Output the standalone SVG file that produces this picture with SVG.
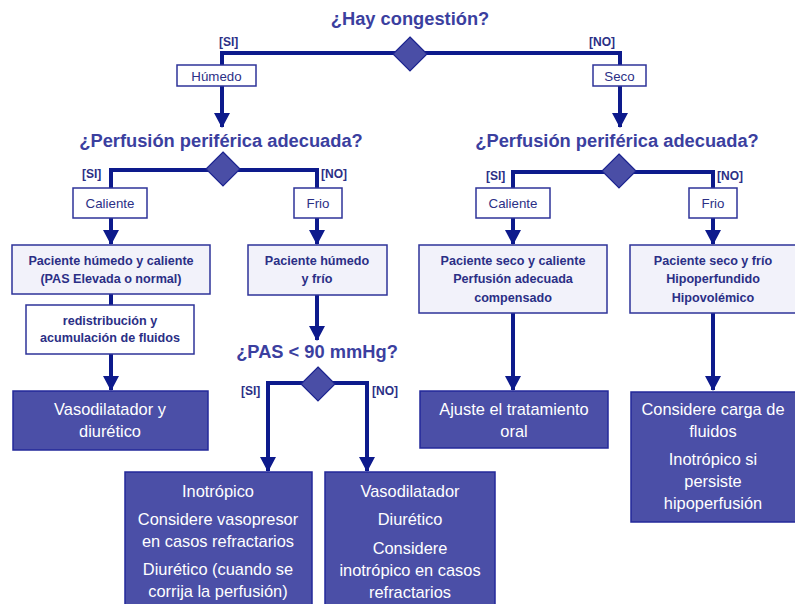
<svg xmlns="http://www.w3.org/2000/svg" width="795" height="604" viewBox="0 0 795 604">
<defs>
<marker id="arr" markerUnits="userSpaceOnUse" markerWidth="16" markerHeight="16" refX="14" refY="8" orient="auto">
<path d="M0,0 L15,8 L0,16 Z" fill="#0d1a8c"/>
</marker>
<style>
.q{font-family:"Liberation Sans",Arial,sans-serif;font-weight:bold;font-size:18.3px;fill:#3b3f9f;text-anchor:middle}
.lbl{font-family:"Liberation Sans",Arial,sans-serif;font-weight:bold;font-size:12px;fill:#2b2f86}
.bx{fill:#ffffff;stroke:#2e3399;stroke-width:1.5}
.lbx{fill:#f2f2fa;stroke:#2e3399;stroke-width:1.5}
.dbx{fill:#4b4fa7;stroke:#23289a;stroke-width:1.5}
.t{font-family:"Liberation Sans",Arial,sans-serif;font-size:13.3px;fill:#2b2f86;text-anchor:middle}
.tb{font-family:"Liberation Sans",Arial,sans-serif;font-size:12.6px;font-weight:bold;fill:#2b2f86;text-anchor:middle}
.w{font-family:"Liberation Sans",Arial,sans-serif;font-size:16.4px;fill:#ffffff;text-anchor:middle}
.ln{fill:none;stroke:#0d1a8c;stroke-width:4}
.dm{fill:#4a4ea6;stroke:#1c2490;stroke-width:1.2}
</style>
</defs>
<g id="connectors">
<path class="ln" d="M222,65 V53 H620 V65"/>
<path class="ln" d="M222,86 V127" marker-end="url(#arr)"/>
<path class="ln" d="M620,86 V127" marker-end="url(#arr)"/>
<path class="ln" d="M111,188 V170 H317 V188"/>
<path class="ln" d="M111,218 V244" marker-end="url(#arr)"/>
<path class="ln" d="M317,218 V244" marker-end="url(#arr)"/>
<path class="ln" d="M513,188 V172 H713 V188"/>
<path class="ln" d="M513,218 V244" marker-end="url(#arr)"/>
<path class="ln" d="M713,218 V244" marker-end="url(#arr)"/>
<path class="ln" d="M111,294 V305"/>
<path class="ln" d="M111,354 V390" marker-end="url(#arr)"/>
<path class="ln" d="M317,295 V340" marker-end="url(#arr)"/>
<path class="ln" d="M268,440 V383 H367 V440"/>
<path class="ln" d="M268,440 V471" marker-end="url(#arr)"/>
<path class="ln" d="M367,440 V471" marker-end="url(#arr)"/>
<path class="ln" d="M513,313 V390" marker-end="url(#arr)"/>
<path class="ln" d="M713,313 V390" marker-end="url(#arr)"/>
</g>
<g id="q1">
<text class="q" x="410" y="25">¿Hay congestión?</text>
<polygon class="dm" points="410,37 427,54 410,71 393,54"/>
<text class="lbl" x="219" y="46">[SI]</text>
<text class="lbl" x="589" y="46">[NO]</text>
</g>
<g id="humedo"><rect class="bx" x="177" y="65" width="79" height="21"/><text class="t" x="216.5" y="80.5">Húmedo</text></g>
<g id="seco"><rect class="bx" x="593" y="65" width="53" height="21"/><text class="t" x="619.5" y="80.5">Seco</text></g>
<g id="q2l">
<text class="q" x="221" y="147">¿Perfusión periférica adecuada?</text>
<polygon class="dm" points="223,152 240,169 223,186 206,169"/>
<text class="lbl" x="82" y="178">[SI]</text>
<text class="lbl" x="321" y="178">[NO]</text>
</g>
<g id="q2r">
<text class="q" x="617" y="147">¿Perfusión periférica adecuada?</text>
<polygon class="dm" points="619,154 636,171 619,188 602,171"/>
<text class="lbl" x="486" y="180">[SI]</text>
<text class="lbl" x="717" y="180">[NO]</text>
</g>
<g id="calienteL"><rect class="bx" x="73" y="188" width="74" height="30"/><text class="t" x="110" y="207.5">Caliente</text></g>
<g id="frioL"><rect class="bx" x="294" y="188" width="48" height="30"/><text class="t" x="318" y="207.5">Frio</text></g>
<g id="calienteR"><rect class="bx" x="476" y="188" width="74" height="30"/><text class="t" x="513" y="207.5">Caliente</text></g>
<g id="frioR"><rect class="bx" x="689" y="188" width="48" height="30"/><text class="t" x="713" y="207.5">Frio</text></g>
<g id="humedoCaliente"><rect class="lbx" x="12" y="245" width="198" height="49"/>
<text class="tb" x="111" y="265">Paciente húmedo y caliente</text><text class="tb" x="111" y="283">(PAS Elevada o normal)</text></g>
<g id="redistribucion"><rect class="bx" x="26" y="305" width="168" height="49"/>
<text class="tb" x="110" y="325">redistribución y</text><text class="tb" x="110" y="342">acumulación de fluidos</text></g>
<g id="vasodilatadorDiuretico"><rect class="dbx" x="13" y="391" width="195" height="59"/>
<text class="w" x="110" y="415">Vasodilatador y</text><text class="w" x="110" y="437">diurético</text></g>
<g id="humedoFrio"><rect class="lbx" x="248" y="245" width="139" height="50"/>
<text class="tb" x="317" y="265">Paciente húmedo</text><text class="tb" x="317" y="283">y frío</text></g>
<g id="q3">
<text class="q" x="317" y="358">¿PAS &lt; 90 mmHg?</text>
<polygon class="dm" points="318,367 335,384 318,401 301,384"/>
<text class="lbl" x="241" y="395">[SI]</text>
<text class="lbl" x="372" y="395">[NO]</text>
</g>
<g id="inotropico"><rect class="dbx" x="125" y="472" width="187" height="140"/>
<text class="w" x="218" y="497">Inotrópico</text>
<text class="w" x="218" y="525">Considere vasopresor</text>
<text class="w" x="218" y="547">en casos refractarios</text>
<text class="w" x="218" y="575">Diurético (cuando se</text>
<text class="w" x="218" y="597">corrija la perfusión)</text></g>
<g id="vasodilatador"><rect class="dbx" x="325" y="472" width="170" height="140"/>
<text class="w" x="410" y="497">Vasodilatador</text>
<text class="w" x="410" y="525">Diurético</text>
<text class="w" x="410" y="554">Considere</text>
<text class="w" x="410" y="576">inotrópico en casos</text>
<text class="w" x="410" y="598">refractarios</text></g>
<g id="secoCaliente"><rect class="lbx" x="419" y="245" width="188" height="68"/>
<text class="tb" x="513" y="265">Paciente seco y caliente</text>
<text class="tb" x="513" y="283">Perfusión adecuada</text>
<text class="tb" x="513" y="302">compensado</text></g>
<g id="secoFrio"><rect class="lbx" x="630" y="245" width="170" height="68"/>
<text class="tb" x="713" y="265">Paciente seco y frío</text>
<text class="tb" x="713" y="283">Hipoperfundido</text>
<text class="tb" x="713" y="302">Hipovolémico</text></g>
<g id="ajuste"><rect class="dbx" x="420" y="391" width="188" height="57"/>
<text class="w" x="514" y="415">Ajuste el tratamiento</text>
<text class="w" x="514" y="437">oral</text></g>
<g id="cargaFluidos"><rect class="dbx" x="631" y="392" width="170" height="130"/>
<text class="w" x="713" y="415">Considere carga de</text>
<text class="w" x="713" y="437">fluidos</text>
<text class="w" x="713" y="465">Inotrópico si</text>
<text class="w" x="713" y="487">persiste</text>
<text class="w" x="713" y="509">hipoperfusión</text></g>
</svg>
